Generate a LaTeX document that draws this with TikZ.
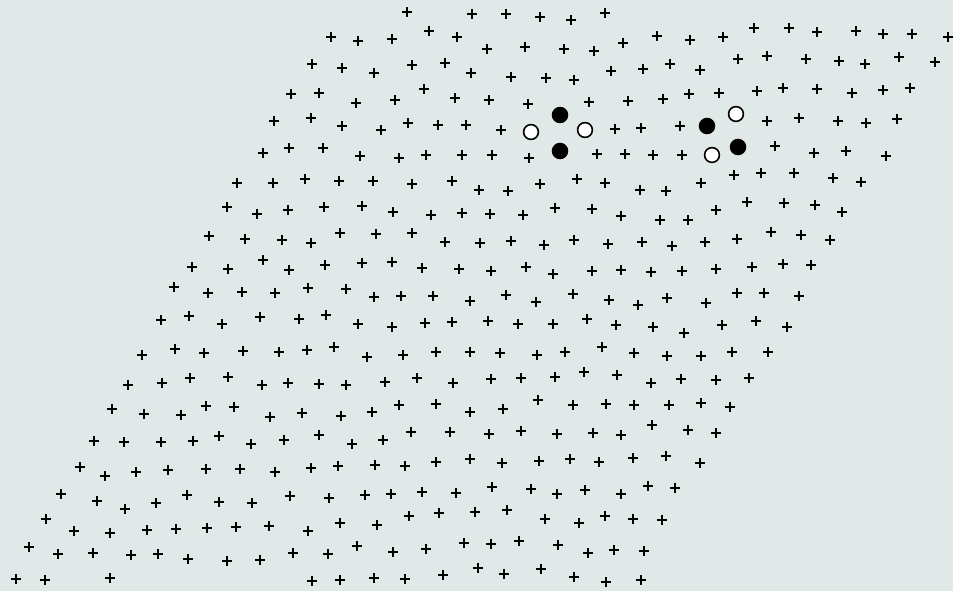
\documentclass[tikz,border=0pt]{standalone}
\definecolor{bgc}{RGB}{225,233,232}
\tikzset{
  plusmark/.style={line width=1.9pt, black},
  fullc/.style={fill=black, draw=black, line width=1.3pt},
  openc/.style={fill=white, draw=black, line width=1.6pt}
}
\begin{document}
\begin{tikzpicture}[x=1pt,y=-1pt]
\fill[bgc] (0,0) rectangle (953,591);
\useasboundingbox (0,0) rectangle (953,591);
\foreach \px/\py in {
407/12,472/14,506/14,540/17,571/20,605/13,
331/37,358/41,392/39,429/31,457/37,487/49,525/47,564/49,594/51,623/43,657/36,690/40,723/37,754/28,789/28,817/32,856/31,883/34,912/34,948/37,
312/64,342/68,374/73,412/65,445/63,471/73,511/77,546/78,574/80,611/71,643/69,670/64,700/70,738/59,767/56,806/59,839/61,865/64,899/57,935/62,
291/94,319/93,356/103,395/100,424/89,455/98,489/100,528/104,589/102,628/101,663/99,689/94,719/93,757/91,783/88,817/89,852/93,883/90,910/88,
274/121,311/118,342/126,381/130,408/123,438/125,466/125,501/130,615/129,641/128,680/126,767/121,799/118,838/121,866/123,897/119,
263/153,289/148,323/148,360/156,399/158,426/155,462/155,492/155,529/158,597/154,625/154,653/155,682/155,775/146,814/153,846/151,886/156,
237/183,273/183,305/179,339/181,373/181,412/184,452/181,479/190,508/191,540/184,577/179,605/183,640/190,666/191,701/183,734/175,761/173,794/173,833/178,861/182,
227/207,257/214,288/210,324/207,362/206,393/212,431/215,462/213,490/214,523/215,555/208,592/209,621/216,660/220,688/220,716/210,747/202,784/203,815/205,842/212,
209/236,245/239,282/240,311/243,340/233,376/234,412/233,445/242,480/243,511/241,544/245,574/240,608/244,642/242,672/246,705/242,737/239,771/232,801/235,830/240,
192/267,228/269,263/260,289/270,325/265,362/263,392/262,422/268,459/269,491/271,526/267,553/274,592/271,621/270,651/272,682/271,716/269,752/267,783/264,811/265,
174/287,208/293,242/292,275/293,308/288,346/289,374/297,401/296,433/296,470/301,506/295,536/302,573/294,609/300,638/305,667/298,706/303,737/293,764/293,799/296,
161/320,189/316,222/324,260/317,299/319,326/315,358/324,392/327,425/323,452/322,488/321,518/324,553/324,587/319,616/325,653/327,684/333,722/325,756/321,787/327,
142/355,175/349,204/353,243/351,279/352,307/350,334/347,367/357,403/355,436/352,470/352,500/353,537/355,565/352,602/347,634/353,667/356,701/356,732/352,768/352,
128/385,162/383,190/378,228/377,262/385,288/383,319/384,346/385,385/382,417/378,453/383,491/379,521/378,555/377,584/372,617/375,651/383,681/379,716/380,749/378,
112/409,144/414,181/415,206/406,234/407,270/417,302/413,341/416,372/412,399/405,436/404,470/412,503/409,538/400,573/405,606/404,634/405,669/405,701/403,730/407,
94/441,124/442,161/442,193/441,219/436,251/444,284/440,319/435,352/444,383/440,411/432,450/432,489/434,521/431,557/434,593/433,621/435,652/425,688/430,716/433,
80/467,105/476,136/472,168/470,206/469,240/469,275/472,311/468,338/466,375/465,405/466,436/462,470/459,502/463,539/461,570/459,599/462,633/458,666/456,700/463,
61/494,97/501,125/509,156/503,187/495,219/502,252/503,290/496,329/498,365/495,391/494,422/492,456/493,492/487,531/489,557/494,585/490,621/494,648/486,675/488,
46/519,74/531,110/533,147/530,176/529,207/528,236/527,269/526,308/531,340/523,377/525,409/516,439/513,475/512,507/510,545/519,579/523,605/516,633/519,662/520,
29/547,58/554,93/553,131/555,158/554,188/559,227/561,260/560,293/553,328/554,357/546,393/552,426/549,464/543,491/544,519/541,558/545,588/553,614/550,644/551,
16/579,45/580,110/578,312/581,340/580,374/578,405/579,443/575,478/568,504/574,541/569,574/577,606/582,641/580}
{
  \draw[plusmark] (\px,\py) +(-5.2,0) -- +(5.2,0) +(0,-5.2) -- +(0,5.2);
}
\foreach \px/\py in {560/115,560/151,707/126,738/147}
  \draw[fullc] (\px,\py) circle (7.6);
\foreach \px/\py in {531/132,585/130,736/114,712/155}
  \draw[openc] (\px,\py) circle (7.4);
\end{tikzpicture}
\end{document}
